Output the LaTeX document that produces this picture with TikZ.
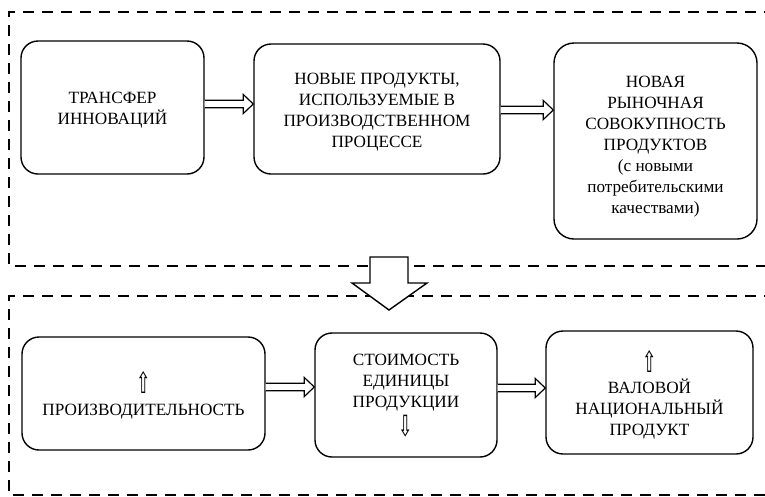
\documentclass[tikz,border=0pt]{standalone}
\usepackage{fontspec}
\usepackage{graphicx}
\setmainfont{Liberation Serif}
\newfontfamily\symfont{DejaVu Sans}
\usetikzlibrary{calc}
\tikzset{
  box/.style={draw, line width=1.4pt, rounded corners=17pt, inner sep=0pt},
  boxtext/.style={align=center, inner sep=0pt, font=\fontsize{17.2}{21}\selectfont},
  frame/.style={line width=1.4pt, dash pattern=on 11pt off 8pt},
  hollow/.style={draw, line width=1.2pt, fill=white, line join=miter},
}
\newcommand\harrow[3]{%
  \draw[hollow] let \p1=(#1.east|-#3), \p2=(#2.west|-#3) in
    (\x1,\y1+3.8pt) -- (\x2-10pt,\y1+3.8pt) -- (\x2-10pt,\y1+9.5pt) -- (\x2,\y1)
    -- (\x2-10pt,\y1-9.5pt) -- (\x2-10pt,\y1-3.8pt) -- (\x1,\y1-3.8pt);}
\newcommand\uparr{\scalebox{1.0}[1.7]{\symfont ⇧}}
\newcommand\dnarr{\scalebox{1.0}[1.7]{\symfont ⇩}}
% name, center, width, height, radius, text shift (down), text
\newcommand\boxnode[7]{%
  \node[box, minimum width=#3, minimum height=#4, rounded corners=#5] (#1) at (#2) {};
  \node[boxtext] (t#1) at ([yshift=-#6]#1.center) {#7};}
\begin{document}
\begin{tikzpicture}[x=1pt,y=-1pt]
\clip (0,0) rectangle (765,496);
\fill[white] (0,0) rectangle (765,496);
% frames
\draw[frame] (775,12) -- (9,12) -- (9,266) -- (775,266);
\draw[frame] (775,296) -- (9,296) -- (9,495) -- (775,495);
% big arrow
\draw[hollow, line width=1.4pt] (370,257) -- (408,257) -- (408,283) -- (427,283) -- (389,310)
  -- (352,283) -- (370,283) -- cycle;
% top row
\boxnode{b1}{112.5,107.5}{183pt}{133pt}{17pt}{3pt}{ТРАНСФЕР\\ИННОВАЦИЙ}
\boxnode{b2}{377,109}{246pt}{130pt}{17pt}{3pt}{НОВЫЕ ПРОДУКТЫ,\\ИСПОЛЬЗУЕМЫЕ В\\ПРОИЗВОДСТВЕННОМ\\ПРОЦЕССЕ}
\boxnode{b3}{655.5,141}{203pt}{196pt}{20pt}{6pt}{НОВАЯ\\РЫНОЧНАЯ\\СОВОКУПНОСТЬ\\ПРОДУКТОВ\\(с новыми\\потребительскими\\качествами)}
% bottom row
\boxnode{b4}{143.5,393.5}{243pt}{113pt}{17pt}{2pt}{\uparr\\[1pt]ПРОИЗВОДИТЕЛЬНОСТЬ}
\boxnode{b5}{406,395}{182pt}{124pt}{17pt}{1pt}{СТОИМОСТЬ\\ЕДИНИЦЫ\\ПРОДУКЦИИ\\[3pt]\dnarr}
\boxnode{b6}{649.5,392.5}{207pt}{123pt}{17pt}{2pt}{\uparr\\[0pt]ВАЛОВОЙ\\НАЦИОНАЛЬНЫЙ\\ПРОДУКТ}
% connectors
\coordinate (ya) at (0,104);
\coordinate (yb) at (0,110);
\coordinate (yc) at (0,387);
\coordinate (yd) at (0,388);
\harrow{b1}{b2}{ya}
\harrow{b2}{b3}{yb}
\harrow{b4}{b5}{yc}
\harrow{b5}{b6}{yd}
\end{tikzpicture}
\end{document}
